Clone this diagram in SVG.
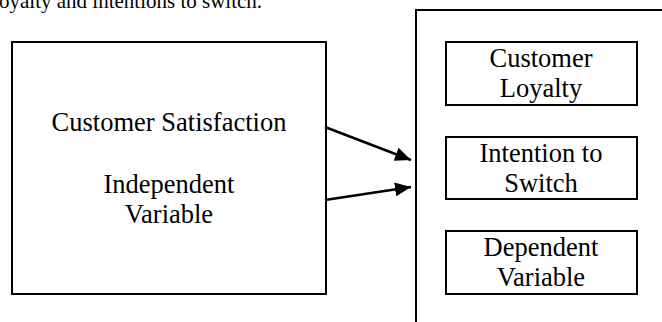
<svg xmlns="http://www.w3.org/2000/svg" width="662" height="322" viewBox="0 0 662 322">
<style>
.box{fill:none;stroke:#000;stroke-width:2}
.t{font-family:'Liberation Serif','DejaVu Serif',serif;font-size:26.5px;fill:#000;text-anchor:middle}
.body{font-family:'Liberation Serif','DejaVu Serif',serif;font-size:21px;fill:#000}
.conn{stroke:#000;stroke-width:2.5;fill:none;marker-end:url(#ah)}
</style>
<defs>
<marker id="ah" markerUnits="userSpaceOnUse" markerWidth="18" markerHeight="14" refX="16" refY="7" orient="auto">
<path d="M0,0 L16,7 L0,14 Z" fill="#000"/>
</marker>
</defs>
<rect width="662" height="322" fill="#fff"/>
<text class="body" x="-1" y="8">oyalty and intentions to switch.</text>
<g id="independent">
<rect class="box" x="12" y="42" width="314" height="252"/>
<text class="t" x="169" y="131">Customer Satisfaction</text>
<text class="t" x="169" y="193">Independent</text>
<text class="t" x="169" y="223">Variable</text>
</g>
<g id="dependent-frame">
<path class="box" d="M416,322 L416,10 L663,10"/>
</g>
<g id="loyalty">
<rect class="box" x="446" y="42" width="191" height="63"/>
<text class="t" x="541" y="67">Customer</text>
<text class="t" x="541" y="97">Loyalty</text>
</g>
<g id="switch">
<rect class="box" x="446" y="137" width="191" height="62"/>
<text class="t" x="541" y="162">Intention to</text>
<text class="t" x="541" y="192">Switch</text>
</g>
<g id="dependent-label">
<rect class="box" x="446" y="231" width="191" height="63"/>
<text class="t" x="541" y="256">Dependent</text>
<text class="t" x="541" y="286">Variable</text>
</g>
<g id="connectors">
<line class="conn" x1="325" y1="127" x2="411" y2="160"/>
<line class="conn" x1="325" y1="200" x2="411" y2="187"/>
</g>
</svg>
